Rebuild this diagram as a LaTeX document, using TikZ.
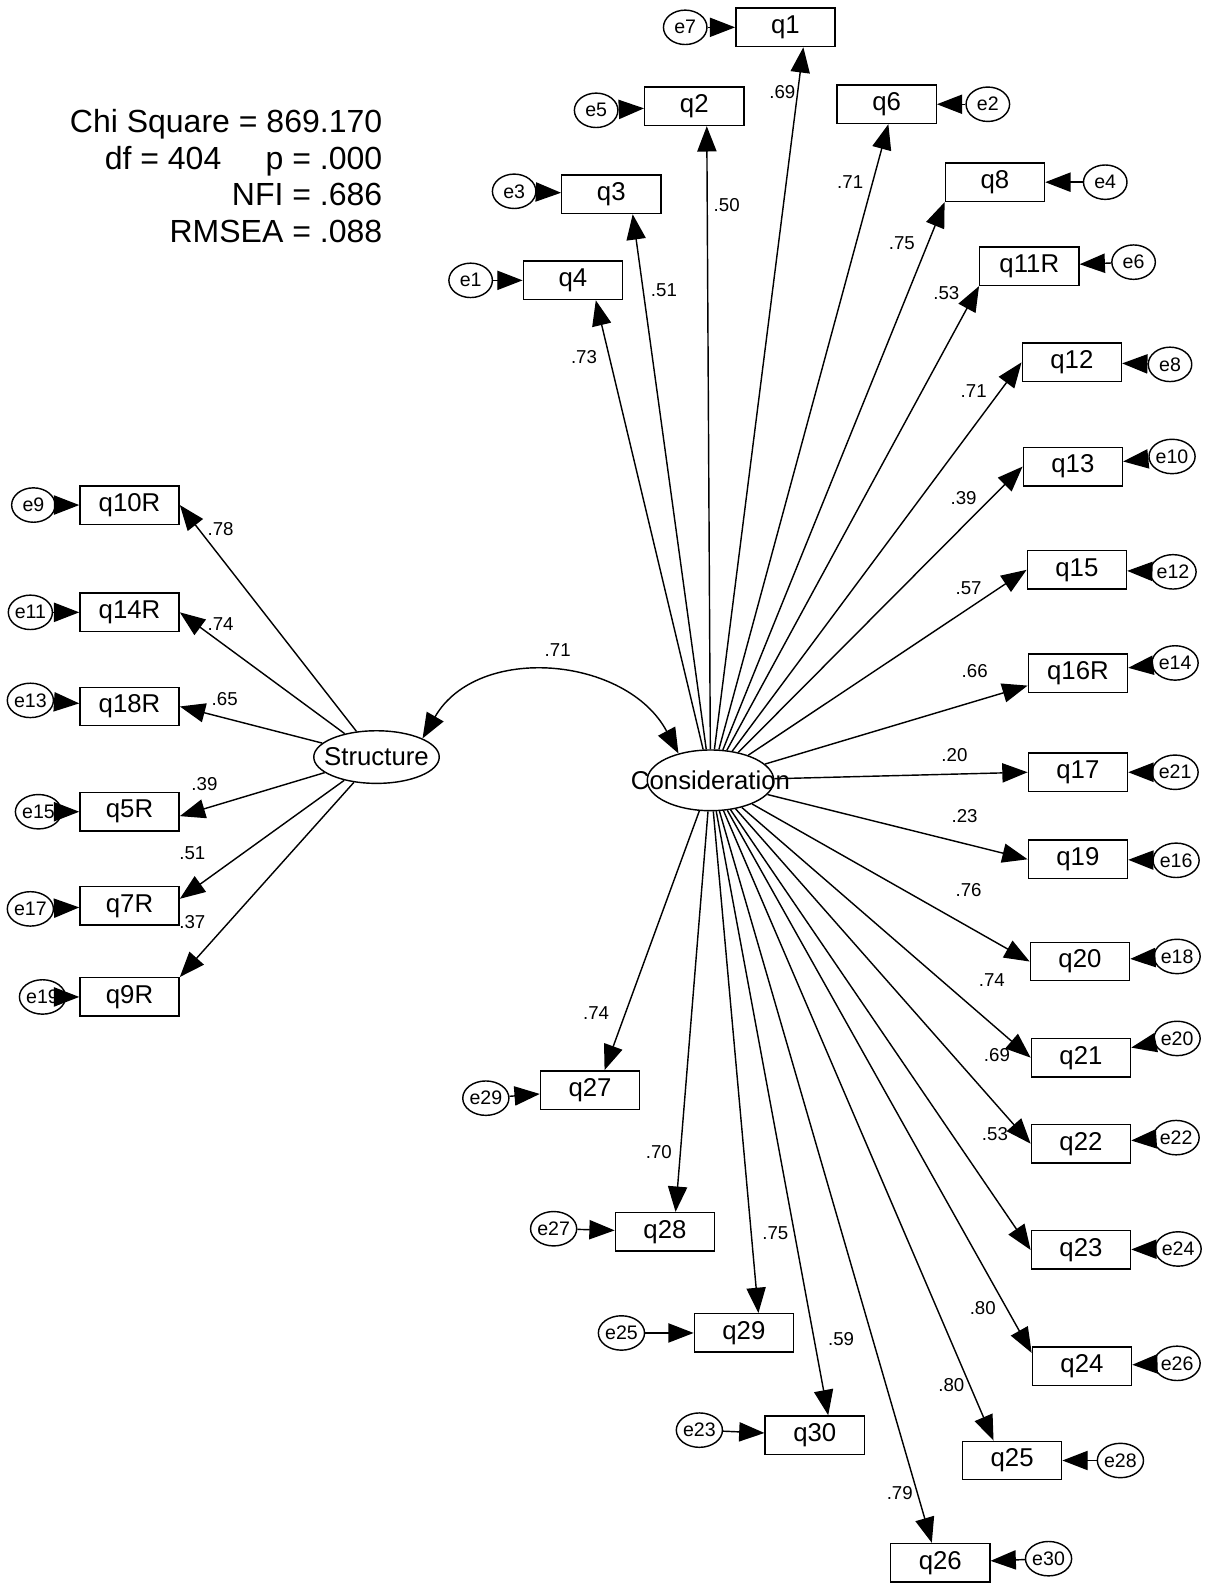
\documentclass[tikz,border=0pt]{standalone}
\usepackage{fontspec}
\setmainfont{Liberation Sans}
\usetikzlibrary{arrows.meta}
\usetikzlibrary{shapes.geometric}

\tikzset{
  obs/.style={draw, line width=0.8pt, minimum width=1.96cm, minimum height=0.76cm,
    inner sep=0pt, font=\fontsize{14.5}{16}\selectfont},
  err/.style={draw, ellipse, line width=0.8pt, minimum width=0.86cm, minimum height=0.68cm,
    inner sep=0pt, font=\fontsize{11}{12}\selectfont},
  lat/.style={draw, ellipse, line width=0.8pt, inner sep=0pt,
    font=\fontsize{14.5}{16}\selectfont},
  tip/.style={Triangle[length=5mm,width=3.8mm]},
  load/.style={-{Triangle[length=5mm,width=3.8mm]}, line width=0.8pt},
  wt/.style={inner sep=1pt, font=\fontsize{10.5}{12}\selectfont},
  stats/.style={align=right, inner sep=0pt, font=\fontsize{18}{20.5}\selectfont}
}

\begin{document}
\begin{tikzpicture}[x=0.02cm, y=-0.02cm]
  \useasboundingbox (0,0) rectangle (1194,1568);

  % 適合度
  \node[stats, anchor=north east] (fit) at (378,108)
    {Chi Square = 869.170\\ df = 404\hspace{0.7cm} p = .000\\ NFI = .686\\ RMSEA = .088};

  % 潜在変数
  \node[lat, minimum width=2.48cm, minimum height=1.04cm] (Str) at (372,748)
    {\makebox[0pt]{Structure}};
  \node[lat, minimum width=2.5cm, minimum height=1.2cm] (Con) at (702,771)
    {\makebox[0pt]{Consideration}};

  % 共分散
  \draw[line width=0.8pt, {Triangle[length=5mm,width=3.8mm]}-{Triangle[length=5mm,width=3.8mm]}]
    (Str.22) to[out=60, in=118, looseness=1.1] (Con.140);
  \node[wt] (wcov) at (551,642) {.71};

  % Structure の観測変数
  \foreach \q/\x/\y/\a/\e/\ex/\ey/\w/\lx/\ly in {
      q10R/128/499/east/e9/33/499/.78/218/523,
      q14R/128/605/east/e11/30/605/.74/218/617,
      q18R/128/698/east/e13/30/692/.65/222/691,
      q5R/128/802/-5/e15/38/802/.39/202/775,
      q7R/128/895/8/e17/30/898/.51/190/843,
      q9R/128/985/north east/e19/42/985/.37/190/911} {
    \node[obs] (\q) at (\x,\y) {\q};
    \node[err] (\e) at (\ex,\ey) {\e};
    \draw[load] (\e) -- (\q);
    \draw[load] (Str) -- (\q.\a);
    \node[wt] (w\q) at (\lx,\ly) {\w};
  }

  % Consideration の観測変数
  \foreach \q/\x/\y/\a/\e/\ex/\ey/\w/\lx/\ly in {
      q1/776/27/-48/e7/677/27/.69/773/91,
      q2/686/105/-58/e5/589/109/.50/718/203,
      q6/876/103/-85/e2/976/103/.71/840/180,
      q8/983/180/south west/e4/1092/180/.75/891/240,
      q3/604/192/-43/e3/508/189/.51/656/287,
      q11R/1017/263/south west/e6/1120/259/.53/935/290,
      q4/566/277/-41/e1/465/277/.73/577/353,
      q12/1059/358/west/e8/1156/360/.71/962/386,
      q13/1060/461/west/e10/1158/451/.39/952/492,
      q15/1064/563/west/e12/1159/565/.57/957/581,
      q16R/1065/665/194/e14/1161/655/.66/963/663,
      q17/1065/763/west/e21/1161/763/.20/943/746,
      q19/1065/849/west/e16/1162/850/.23/953/806,
      q20/1067/950/west/e18/1163/945/.76/957/879,
      q21/1068/1045/west/e20/1163/1026/.74/980/968,
      q22/1068/1130/west/e22/1162/1124/.69/985/1042,
      q23/1068/1235/west/e24/1164/1234/.53/983/1120,
      q24/1069/1350/165/e26/1163/1347/.80/971/1292,
      q25/1000/1443/133/e28/1107/1443/.80/940/1368,
      q26/929/1544/113/e30/1036/1540/.79/889/1475,
      q30/805/1418/56/e23/691/1413/.59/831/1323,
      q29/735/1317/54/e25/614/1317/.75/766/1218,
      q28/657/1217/62/e27/547/1214/.70/651/1138,
      q27/583/1077/54/e29/480/1085/.74/589/1001} {
    \node[obs] (\q) at (\x,\y) {\q};
    \node[err] (\e) at (\ex,\ey) {\e};
    \draw[load] (\e) -- (\q);
    \draw[load] (Con) -- (\q.\a);
    \node[wt] (w\q) at (\lx,\ly) {\w};
  }
\end{tikzpicture}
\end{document}
